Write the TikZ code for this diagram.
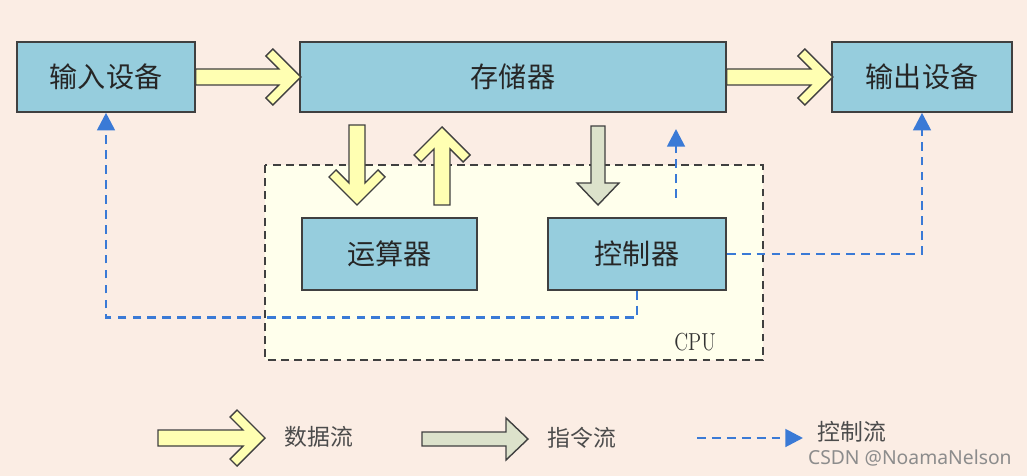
\documentclass[tikz,border=0pt]{standalone}
\usepackage{fontspec}
\newfontfamily\cjk{Noto Sans CJK SC}
\newfontfamily\wmfont{Noto Sans}
\usetikzlibrary{arrows.meta, calc}
\definecolor{bgpeach}{RGB}{251,237,228}
\definecolor{cpuyellow}{RGB}{255,255,236}
\definecolor{boxblue}{RGB}{150,205,221}
\definecolor{datayellow}{RGB}{255,255,178}
\definecolor{cmdgray}{RGB}{220,226,203}
\definecolor{ctrlblue}{RGB}{58,122,214}
\definecolor{edgegray}{RGB}{64,64,64}
\tikzset{
  pics/dataarrow/.style={code={
    \draw[edgegray, line width=0.8pt, fill=datayellow]
      (0,-8) -- (#1-22,-8) -- (#1-35,-21) -- (#1-28,-28) -- (#1,0)
      -- (#1-28,28) -- (#1-35,21) -- (#1-22,8) -- (0,8) -- cycle;
  }},
  pics/cmdarrow/.style={code={
    \draw[edgegray, line width=0.8pt, fill=cmdgray]
      (0,-7) -- (#1-22,-7) -- (#1-22,-21) -- (#1,0)
      -- (#1-22,21) -- (#1-22,7) -- (0,7) -- cycle;
  }}
}

\begin{document}
\begin{tikzpicture}[x=0.02cm, y=-0.02cm,
  unit/.style={draw=edgegray, line width=0.9pt, fill=boxblue, inner sep=0pt,
    minimum height=1.4cm, text=black!85, font=\cjk\fontsize{16}{18}\selectfont},
  cpubox/.style={draw=black!75, fill=cpuyellow, line width=0.8pt,
    dash pattern=on 4.5pt off 3pt},
  ctrlflow/.style={draw=ctrlblue, line width=1.6pt, dash pattern=on 5pt off 3.5pt,
    -{Triangle[length=10pt,width=10pt]}},
  legend/.style={anchor=west, inner sep=0pt, text=black!70,
    font=\cjk\fontsize{13}{15}\selectfont}]
\fill[bgpeach] (0,0) rectangle (1027,476);
\useasboundingbox (0,0) rectangle (1027,476);
\draw[cpubox] (265,165) rectangle (763,360);
\node[inner sep=0pt, font=\fontsize{14}{16}\selectfont, text=black!80] (cpu) at (695,342) {\scalebox{0.8}[1]{CPU}};
\node[unit, minimum width=3.56cm] (in) at (106,77) {输入设备};
\node[unit, minimum width=8.52cm] (mem) at (513,77) {存储器};
\node[unit, minimum width=3.6cm] (out) at (922,77) {输出设备};
\node[unit, minimum width=3.5cm, minimum height=1.44cm] (alu) at (389.5,254) {运算器};
\node[unit, minimum width=3.56cm, minimum height=1.44cm] (ctrl) at (637,254) {控制器};
\pic at (in.east) {dataarrow=105};
\pic at (mem.east) {dataarrow=106};
\pic[rotate=-90] at (357,125) {dataarrow=80};
\pic[rotate=90] at (442,205) {dataarrow=78};
\pic[rotate=-90] at (598,126) {cmdarrow=79};
\coordinate (cfoot) at (676,198);
\coordinate (chead) at (676,129);
\draw[ctrlflow] (cfoot) -- (chead);
\draw[ctrlflow] (ctrl.south) -- ++(0,27) -| (in.south);
\draw[ctrlflow] (ctrl.east) -| (out.south);
\pic at (158,438) {dataarrow=107};
\node[legend] (ldata) at (284,437) {数据流};
\pic at (422,439) {cmdarrow=106};
\node[legend] (lcmd) at (547,438) {指令流};
\coordinate (lfoot) at (697,438);
\coordinate (lhead) at (803,438);
\draw[ctrlflow] (lfoot) -- (lhead);
\node[legend] (lctrl) at (817,432) {控制流};
\node[anchor=east, inner sep=0pt, text=black!45, font=\wmfont\fontsize{11}{13}\selectfont] (mark) at (1012,458) {CSDN @NoamaNelson};
\end{tikzpicture}
\end{document}
